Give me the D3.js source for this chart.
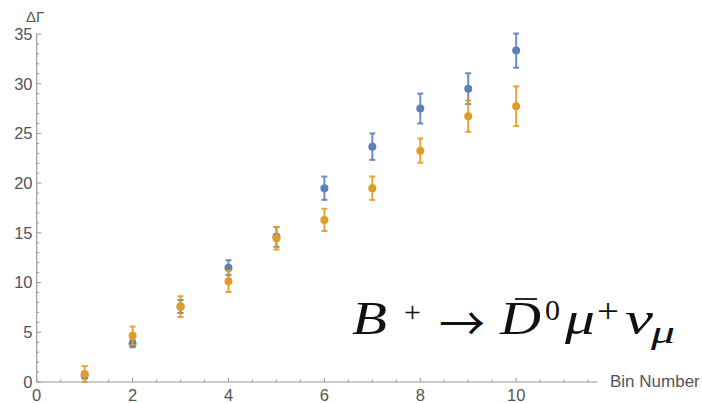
<!DOCTYPE html>
<html><head><meta charset="utf-8">
<script src="https://cdn.jsdelivr.net/npm/d3@7"></script>
<style>body{margin:0;background:#fff}svg{display:block}</style>
</head><body>
<script>
const bins = [1,2,3,4,5,6,7,8,9,10];
const blueVals = [0.65, 3.85, 7.6, 11.5, 14.6, 19.49, 23.67, 27.5, 29.5, 33.33];
const blueErr  = [0.3, 0.35, 0.65, 0.75, 1.0, 1.17, 1.33, 1.5, 1.55, 1.72];
const orangeVals = [0.8, 4.65, 7.58, 10.13, 14.45, 16.3, 19.49, 23.27, 26.73, 27.74];
const orangeErr  = [0.8, 0.92, 1.04, 1.08, 1.13, 1.12, 1.18, 1.22, 1.57, 2.0];
const xMajor = [0,2,4,6,8,10];
const yMajor = [0,5,10,15,20,25,30,35];
const xLabel = "Bin Number";
const yLabel = "ΔΓ";

const W=702,H=403;
const svg=d3.select("body").append("svg").attr("width",W).attr("height",H);
const x=d3.scaleLinear().domain([0,11.7]).range([36.7,597.7]);
const y=d3.scaleLinear().domain([0,35]).range([382,34]);
const axisCol="#999", txtCol="#555";
const font="'Liberation Sans', Arial, sans-serif";

svg.append("line").attr("x1",x(0)).attr("x2",x(11.7)).attr("y1",y(0)).attr("y2",y(0)).attr("stroke",axisCol).attr("stroke-width",1.2);
svg.append("line").attr("x1",x(0)).attr("x2",x(0)).attr("y1",y(0)).attr("y2",y(35)).attr("stroke",axisCol).attr("stroke-width",1.2);

const xt=d3.range(0,11.51,0.5);
svg.selectAll(".xt").data(xt).enter().append("line")
 .attr("x1",d=>x(d)).attr("x2",d=>x(d)).attr("y1",y(0))
 .attr("y2",d=>y(0)-(Number.isInteger(d/2)?4.5:2.5))
 .attr("stroke",axisCol).attr("stroke-width",1);
svg.selectAll(".xl").data(xMajor).enter().append("text")
 .attr("x",d=>x(d)).attr("y",400.5).attr("text-anchor","middle")
 .attr("font-family",font).attr("font-size",16.5).attr("fill",txtCol).text(d=>d);
const yt=d3.range(0,35.1,1);
svg.selectAll(".yt").data(yt).enter().append("line")
 .attr("x1",x(0)).attr("x2",d=>x(0)+(d%5===0?4.5:2.5)).attr("y1",d=>y(d)).attr("y2",d=>y(d))
 .attr("stroke",axisCol).attr("stroke-width",1);
svg.selectAll(".yl").data(yMajor).enter().append("text")
 .attr("x",32.5).attr("y",d=>y(d)+5.8).attr("text-anchor","end")
 .attr("font-family",font).attr("font-size",16.5).attr("fill",txtCol).text(d=>d);

svg.append("text").attr("x",610).attr("y",387).attr("font-family",font).attr("font-size",17).attr("fill",txtCol).text(xLabel);
svg.append("text").attr("x",26).attr("y",22).attr("font-family",font).attr("font-size",15).attr("fill",txtCol).text(yLabel);

function series(vals,errs,col){
  const g=svg.append("g");
  const d=bins.map((b,i)=>({b,v:vals[i],e:errs[i]}));
  const eb=g.selectAll(".eb").data(d).enter().append("g").attr("stroke",col).attr("stroke-width",2).attr("stroke-opacity",0.9);
  eb.append("line").attr("x1",p=>x(p.b)).attr("x2",p=>x(p.b)).attr("y1",p=>y(p.v-p.e)).attr("y2",p=>y(p.v+p.e));
  eb.append("line").attr("x1",p=>x(p.b)-3).attr("x2",p=>x(p.b)+3).attr("y1",p=>y(p.v-p.e)).attr("y2",p=>y(p.v-p.e));
  eb.append("line").attr("x1",p=>x(p.b)-3).attr("x2",p=>x(p.b)+3).attr("y1",p=>y(p.v+p.e)).attr("y2",p=>y(p.v+p.e));
  g.selectAll("circle").data(d).enter().append("circle").attr("cx",p=>x(p.b)).attr("cy",p=>y(p.v)).attr("r",4).attr("fill",col);
}
series(blueVals,blueErr,"#5E81B5");
series(orangeVals,orangeErr,"#E19C24");

// formula B+ -> D̄0 μ+ νμ
const serif="'Liberation Serif','Times New Roman',serif";
const f=svg.append("g").attr("fill","#111").attr("font-family",serif);
function t(xp,yp,s,size,italic,w,fam){
  const e=f.append("text").attr("x",xp).attr("y",yp).attr("font-size",size)
   .attr("font-style",italic?"italic":"normal").attr("font-family",fam||serif).text(s);
  if(w) e.attr("textLength",w).attr("lengthAdjust","spacingAndGlyphs");
}
t(352,334,"B",47,true,35);
t(404,322,"+",30,false);
t(439,340,"→",46,false,null,"'Noto Sans CJK SC',sans-serif");
t(500,334,"D",47,true,41);
f.append("line").attr("x1",515).attr("x2",537).attr("y1",299).attr("y2",299).attr("stroke","#111").attr("stroke-width",1.8);
t(545,320,"0",30,false);
t(565,334,"μ",46,true,30);
t(597,322,"+",34,false,22);
t(625,334,"ν",46,true,28);
t(651,343,"μ",32,true,24);
</script>
</body></html>
